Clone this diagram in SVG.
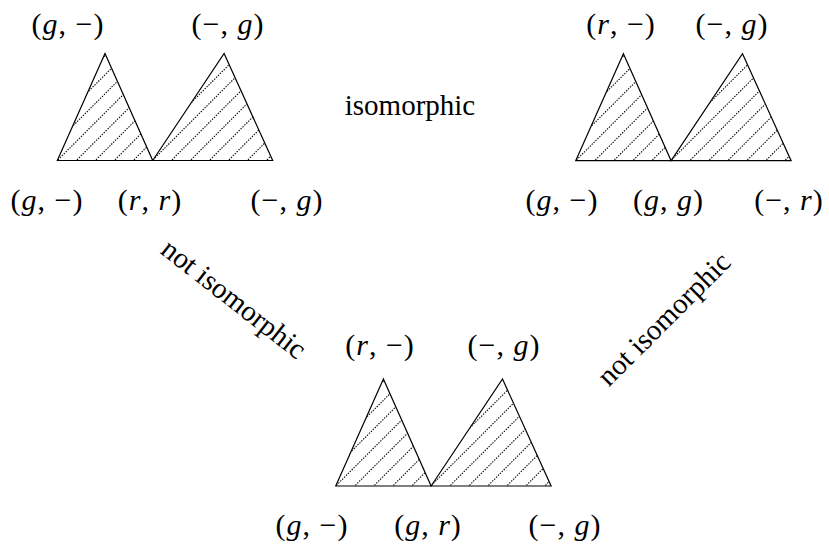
<svg xmlns="http://www.w3.org/2000/svg" width="829" height="546" viewBox="0 0 829 546">
<defs>
<style>
.tri{fill:none;stroke:#000;stroke-width:1.2;stroke-linejoin:miter}
.hl{fill:none;stroke:#000;stroke-width:1.1;stroke-dasharray:1.4 1.3}
.m{font-family:"Liberation Serif","Times New Roman",serif;font-size:30px;letter-spacing:1px;text-anchor:middle;fill:#000}
.i{font-style:italic}
.t{font-family:"Liberation Serif","Times New Roman",serif;font-size:29px;text-anchor:middle;fill:#000}
</style>
<clipPath id="cp">
<polygon points="0,0 47.7,-107 95.4,0"/>
<polygon points="95.4,0 166.8,-107 215.4,0"/>
</clipPath>
<path id="hatch" class="hl" d="M-119,5L-2,-112M-100,5L17,-112M-81,5L36,-112M-62,5L55,-112M-43,5L74,-112M-24,5L93,-112M-5,5L112,-112M14,5L131,-112M33,5L150,-112M52,5L169,-112M71,5L188,-112M90,5L207,-112M109,5L226,-112M128,5L245,-112M147,5L264,-112M166,5L283,-112M185,5L302,-112M204,5L321,-112M223,5L340,-112"/>
<g id="pair">
<g clip-path="url(#cp)"><use href="#hatch"/></g>
<polygon class="tri" points="0,0 47.7,-107 95.4,0"/>
<polygon class="tri" points="95.4,0 166.8,-107 215.4,0"/>
</g>
</defs>
<rect width="829" height="546" fill="#fff"/>

<g id="tree-top-left">
<use href="#pair" transform="translate(57.3,160.5)"/>
<text class="m" x="68" y="34">(<tspan class="i">g</tspan>, −)</text>
<text class="m" x="228" y="34">(−, <tspan class="i">g</tspan>)</text>
<text class="m" x="47" y="210">(<tspan class="i">g</tspan>, −)</text>
<text class="m" x="150" y="210">(<tspan class="i">r</tspan>, <tspan class="i">r</tspan>)</text>
<text class="m" x="287" y="210">(−, <tspan class="i">g</tspan>)</text>
</g>

<g id="tree-top-right">
<use href="#pair" transform="translate(575.7,160.7)"/>
<text class="m" x="621" y="34">(<tspan class="i">r</tspan>, −)</text>
<text class="m" x="732" y="34">(−, <tspan class="i">g</tspan>)</text>
<text class="m" x="562" y="210">(<tspan class="i">g</tspan>, −)</text>
<text class="m" x="668.5" y="210">(<tspan class="i">g</tspan>, <tspan class="i">g</tspan>)</text>
<text class="m" x="789" y="210">(−, <tspan class="i">r</tspan>)</text>
</g>

<g id="tree-bottom">
<use href="#pair" transform="translate(335.7,486)"/>
<text class="m" x="380" y="355">(<tspan class="i">r</tspan>, −)</text>
<text class="m" x="504" y="355">(−, <tspan class="i">g</tspan>)</text>
<text class="m" x="312" y="535">(<tspan class="i">g</tspan>, −)</text>
<text class="m" x="428" y="535">(<tspan class="i">g</tspan>, <tspan class="i">r</tspan>)</text>
<text class="m" x="565" y="535">(−, <tspan class="i">g</tspan>)</text>
</g>

<g id="relations">
<text class="t" x="410" y="115">isomorphic</text>
<text class="t" transform="translate(233,300) rotate(38)" x="0" y="8">not isomorphic</text>
<text class="t" transform="translate(665,320) rotate(-45)" x="0" y="8">not isomorphic</text>
</g>
</svg>
